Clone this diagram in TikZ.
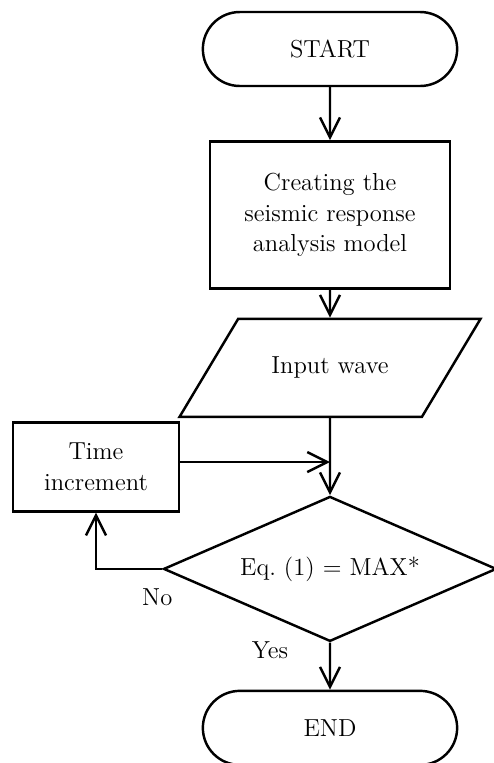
\documentclass[tikz,border=0pt]{standalone}
\usepackage{tikz}
\usetikzlibrary{shapes,shapes.geometric,shapes.misc,arrows.meta,positioning}
\tikzset{term/.style={draw,rounded rectangle,minimum width=5.32cm,minimum height=1.48cm}}
\tikzset{proc/.style={draw,rectangle,align=center,inner sep=2pt}}
\tikzset{io/.style={draw,trapezium,trapezium left angle=59,trapezium right angle=121,trapezium stretches body=true,inner ysep=0.76cm,minimum width=6.02cm,minimum height=1.96cm}}
\tikzset{test/.style={draw,diamond,aspect=2.3,inner sep=0pt,minimum width=6.66cm,minimum height=2.9cm}}

\begin{document}
\begin{tikzpicture}[>={Straight Barb[length=4mm,width=4mm]}, line width=1.4pt, font=\fontsize{14}{17.5}\selectfont]
\useasboundingbox (0,0) rectangle (9.86,-15.26);
\node[term] (start) at (6.6,-0.98) {START};
\node[proc, minimum width=4.8cm, minimum height=2.94cm][below=1.06cm of start] (model){Creating the\\seismic response\\analysis model};
\node[io][below=0.56cm of model] (wave){Input wave};
\node[test][below=1.54cm of wave] (check){Eq.~(1) = MAX*};
\node[term][below=0.94cm of check] (stop){END};
\node[proc, minimum width=3.32cm, minimum height=1.78cm] (time) at (1.92,-9.34) {Time\\increment};
\path ([yshift=0.1cm]time.east) coordinate (tin);
\draw[->] (start) -- (model);
\draw[->] (model) -- (wave);
\draw[->] (wave) -- (check);
\draw[->] (tin) -- (tin -| check.north);
\draw[->] (check.west) -| node[pos=0, xshift=-0.1cm, yshift=-0.56cm] {No} (time.south);
\draw[->] (check) -- node[pos=0, xshift=-1.2cm, yshift=-0.16cm] {Yes} (stop);
\end{tikzpicture}
\end{document}
